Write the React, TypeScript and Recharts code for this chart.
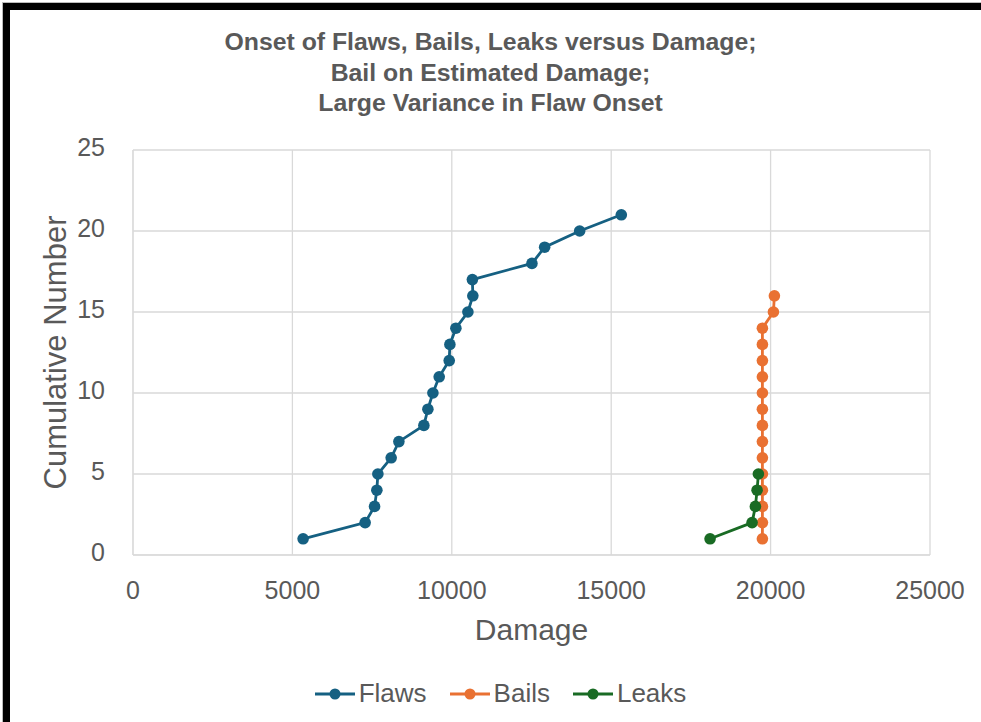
import { CartesianGrid, Label, Scatter, ScatterChart, XAxis, YAxis } from 'recharts'

const flawDamage = [5336, 7282, 7577, 7649, 7681, 8098, 8340, 9124, 9250, 9407, 9605, 9919, 9940, 10128, 10505, 10660, 10645, 12514, 12912, 14011, 15317]
const flawCount = [1, 2, 3, 4, 5, 6, 7, 8, 9, 10, 11, 12, 13, 14, 15, 16, 17, 18, 19, 20, 21]

const bailDamage = [19743, 19743, 19743, 19743, 19743, 19743, 19743, 19743, 19743, 19743, 19743, 19743, 19743, 19743, 20088, 20119]
const bailCount = [1, 2, 3, 4, 5, 6, 7, 8, 9, 10, 11, 12, 13, 14, 15, 16]

const leakDamage = [18101, 19419, 19523, 19576, 19617]
const leakCount = [1, 2, 3, 4, 5]

const xTicks = [0, 5000, 10000, 15000, 20000, 25000]
const yTicks = [0, 5, 10, 15, 20, 25]

const titleLines = ['Onset of Flaws, Bails, Leaks versus Damage;', 'Bail on Estimated Damage;', 'Large Variance in Flaw Onset']

const textColor = '#595959'
const gridColor = '#d9d9d9'
const font = '"Liberation Sans", Arial, sans-serif'

const toPoints = (damage: number[], count: number[]) => damage.map((d, i) => ({ damage: d, count: count[i] }))

const series = [
  { name: 'Flaws', color: '#156082', data: toPoints(flawDamage, flawCount) },
  { name: 'Bails', color: '#E97132', data: toPoints(bailDamage, bailCount) },
  { name: 'Leaks', color: '#196B24', data: toPoints(leakDamage, leakCount) },
]

function Dot(props: any) {
  return <circle cx={props.cx} cy={props.cy} r={5.8} fill={props.fill} />
}

export default function App() {
  return (
    <div style={{ position: 'absolute', left: 0, top: 0, width: 981, height: 722, background: '#fff', overflow: 'hidden', fontFamily: font }}>
      <div
        style={{
          position: 'absolute',
          left: 3,
          top: 3,
          width: 990,
          height: 740,
          borderTop: '7px solid #000',
          borderLeft: '7px solid #000',
          boxShadow: '-1px -1px 0 #bbb',
        }}
      />
      <div style={{ position: 'absolute', left: 0, top: 27, width: 981, textAlign: 'center', color: textColor, fontWeight: 'bold', fontSize: 24.8, lineHeight: '30.5px' }}>
        {titleLines.map((line) => (
          <div key={line}>{line}</div>
        ))}
      </div>
      <div style={{ position: 'absolute', left: 0, top: 0 }}>
        <ScatterChart width={981} height={722} margin={{ top: 150, right: 51, bottom: 0, left: 0 }}>
          <CartesianGrid stroke={gridColor} strokeWidth={1.3} />
          <XAxis
            type="number"
            dataKey="damage"
            domain={[0, 25000]}
            ticks={xTicks}
            height={167}
            stroke={gridColor}
            tickLine={false}
            tickSize={0}
            tickMargin={26}
            tick={{ fill: textColor, fontSize: 25, fontFamily: font }}
          >
            <Label value="Damage" position="insideBottom" offset={82} fill={textColor} fontSize={30} fontFamily={font} />
          </XAxis>
          <YAxis
            type="number"
            dataKey="count"
            domain={[0, 25]}
            ticks={yTicks}
            width={133}
            stroke={gridColor}
            tickLine={false}
            tickSize={0}
            tickMargin={28}
            tick={{ fill: textColor, fontSize: 25, fontFamily: font, dy: -3 }}
          >
            <Label value="Cumulative Number" angle={-90} position="insideLeft" offset={55} fill={textColor} fontSize={31} fontFamily={font} style={{ textAnchor: 'middle' }} />
          </YAxis>
          {series.map((s) => (
            <Scatter
              key={s.name}
              name={s.name}
              data={s.data}
              fill={s.color}
              line={{ stroke: s.color, strokeWidth: 2.8 }}
              lineType="joint"
              shape={<Dot />}
              isAnimationActive={false}
            />
          ))}
        </ScatterChart>
      </div>
      <div style={{ position: 'absolute', left: 0, top: 678, width: 981, display: 'flex', justifyContent: 'center', alignItems: 'center', gap: 23, paddingLeft: 20, boxSizing: 'border-box', color: textColor, fontSize: 26 }}>
        {series.map((s) => (
          <div key={s.name} style={{ display: 'flex', alignItems: 'center', gap: 4 }}>
            <svg width={40} height={12}>
              <line x1={0} y1={6} x2={40} y2={6} stroke={s.color} strokeWidth={2.8} />
              <circle cx={20} cy={6} r={5.5} fill={s.color} />
            </svg>
            <span>{s.name}</span>
          </div>
        ))}
      </div>
    </div>
  )
}
